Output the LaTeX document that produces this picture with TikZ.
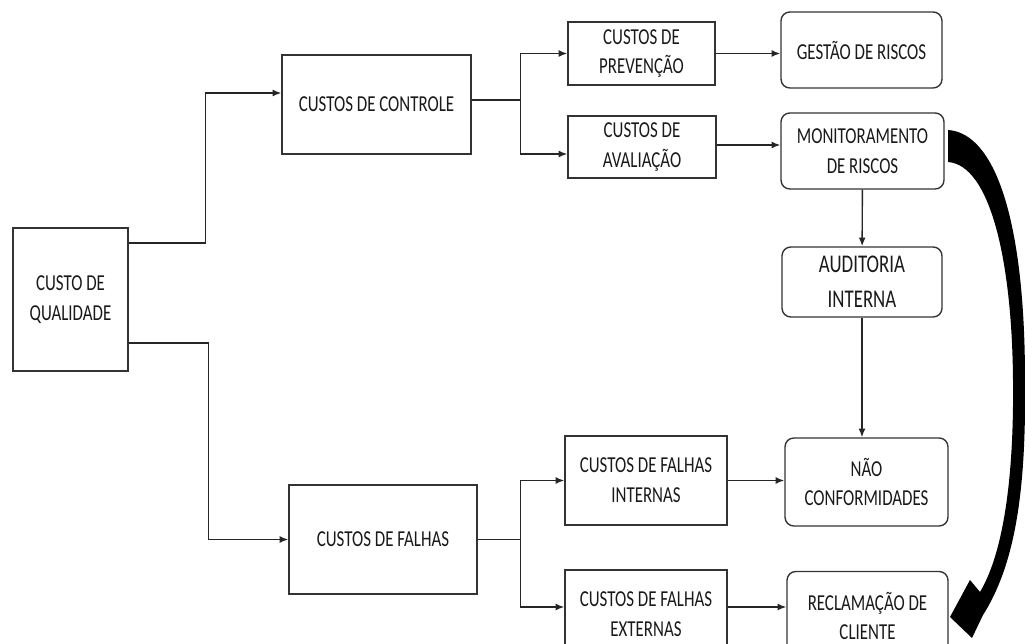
\documentclass[tikz,border=0pt]{standalone}
\usepackage{fontspec}
\setmainfont{Carlito}[FakeStretch=0.74]
\usetikzlibrary{arrows.meta}

\begin{document}
\begin{tikzpicture}[x=0.02cm, y=-0.02cm,
		caixa/.style={draw=black!80, line width=0.8pt, align=center, text=black!90,
			font=\fontsize{13}{17}\selectfont, inner sep=2pt},
		caixar/.style={caixa, rounded corners=5pt},
		seta/.style={-{Latex[length=5pt,width=4pt]}, line width=0.8pt, black!85},
		linha/.style={line width=0.8pt, black!85}]
		\path[use as bounding box, clip] (0,0) rectangle (1025,644);
		% Custos
		\node[caixa, minimum width=2.30cm, minimum height=2.86cm] (qualidade) at (70.5,299.5) {CUSTO DE\\QUALIDADE};
		\node[caixa, minimum width=3.78cm, minimum height=1.98cm] (controle) at (376.5,104.5) {CUSTOS DE CONTROLE};
		\node[caixa, minimum width=3.76cm, minimum height=2.18cm] (falhas) at (383,539.5) {CUSTOS DE FALHAS};
		\node[caixa, minimum width=2.94cm, minimum height=1.26cm] (prevencao) at (641.5,53.5) {CUSTOS DE\\PREVENÇÃO};
		\node[caixa, minimum width=2.96cm, minimum height=1.24cm] (avaliacao) at (642,147) {CUSTOS DE\\AVALIAÇÃO};
		\node[caixa, minimum width=3.24cm, minimum height=1.78cm] (internas) at (646,480.5) {CUSTOS DE FALHAS\\INTERNAS};
		\node[caixa, minimum width=3.24cm, minimum height=1.78cm] (externas) at (646,614.5) {CUSTOS DE FALHAS\\EXTERNAS};
		% Resultados
		\node[caixar, minimum width=3.22cm, minimum height=1.52cm] (gestao) at (861.5,50) {GESTÃO DE RISCOS};
		\node[caixar, minimum width=3.26cm, minimum height=1.52cm] (monitor) at (862.5,151) {MONITORAMENTO\\DE RISCOS};
		\node[caixar, minimum width=3.20cm, minimum height=1.40cm, font=\fontsize{14.5}{20}\selectfont] (auditoria) at (862,282) {AUDITORIA\\INTERNA};
		\node[caixar, minimum width=3.26cm, minimum height=1.76cm] (nao) at (866.5,482) {NÃO\\CONFORMIDADES};
		\node[caixar, minimum width=3.22cm, minimum height=1.78cm] (reclamacao) at (867.5,616) {RECLAMAÇÃO DE\\CLIENTE};
		% Ligações
		\draw[seta] ([yshift=1.13cm]qualidade.east) -- ++(77,0) |- ([yshift=0.23cm]controle.west);
		\draw[seta] ([yshift=-0.87cm]qualidade.east) -- ++(80,0) |- (falhas.west);
		\draw[linha] ([yshift=0.09cm]controle.east) -- ++(49,0) coordinate (ramo1);
		\draw[seta] (ramo1) |- (prevencao.west);
		\draw[seta] (ramo1) |- ([yshift=-0.14cm]avaliacao.west);
		\draw[linha] (falhas.east) -- ++(43,0) coordinate (ramo2);
		\draw[seta] (ramo2) |- (internas.west);
		\draw[seta] (ramo2) |- ([yshift=0.15cm]externas.west);
		\draw[seta] (prevencao.east) -- (prevencao.east -| gestao.west);
		\draw[seta] ([yshift=0.04cm]avaliacao.east) -- ([yshift=0.04cm]avaliacao.east -| monitor.west);
		\draw[seta] (monitor) -- (auditoria);
		\draw[seta] (auditoria.south) -- (auditoria.south |- nao.north);
		\draw[seta] (internas.east) -- (internas.east -| nao.west);
		\draw[seta] ([yshift=0.15cm]externas.east) -- ([yshift=0.15cm]externas.east -| reclamacao.west);
		% Seta curva
		\fill[black] (948,130) .. controls (995,133) and (1025,220) .. (1025,380)
			.. controls (1026,480) and (1018,560) .. (983,615)
			-- (972,638) -- (950,617) -- (970,580) -- (980,592)
			.. controls (1005,550) and (1014,470) .. (1013,380)
			.. controls (1012,260) and (990,165) .. (948,162) -- cycle;
	\end{tikzpicture}
\end{document}
